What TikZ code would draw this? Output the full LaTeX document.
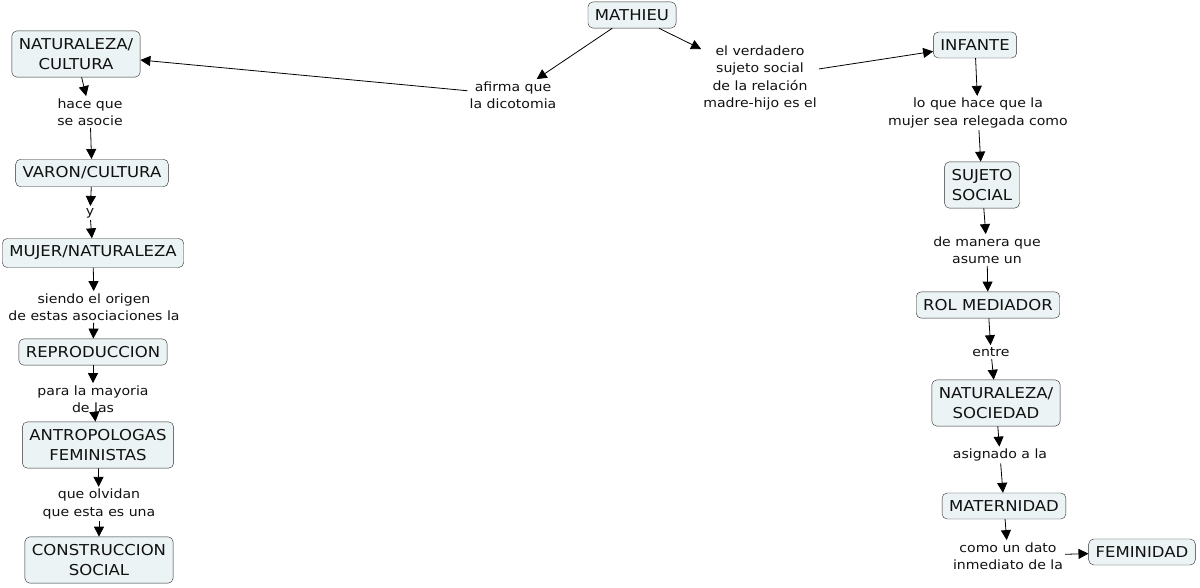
\documentclass[tikz,border=0pt]{standalone}
\usepackage{fontspec}
\setmainfont{DejaVu Sans}[FakeStretch=1.1]
\usetikzlibrary{arrows.meta,positioning}
\definecolor{MAPFill}{HTML}{EBF3F4}
\definecolor{MAPLine}{HTML}{2B2B2B}
\definecolor{MAPText}{HTML}{111111}
\tikzset{
  mapconcept/.style={
    draw=MAPLine,
    fill=MAPFill,
    rounded corners=5pt,
    align=center,
    inner xsep=7pt,
    inner ysep=7.5pt,
    text=MAPText,
    font=\fontsize{15}{20}\selectfont
  },
  maplink/.style={
    align=center,
    inner sep=2pt,
    text=MAPText,
    font=\fontsize{12.8}{17.5}\selectfont
  },
  mapflow/.style={-{Triangle[length=10pt,width=10pt]},draw=black,line width=0.8pt}
}

\begin{document}
\begin{tikzpicture}[x=1pt,y=-1pt]
  \useasboundingbox (0,0) rectangle (1200,587);
  % concepts
  \node[mapconcept] (mathieu) at (632,15) {MATHIEU};
  \node[mapconcept] (natcult) at (76,54) {NATURALEZA/\\CULTURA};
  \node[mapconcept] (varon) at (92,173) {VARON/CULTURA};
  \node[mapconcept] (mujer) at (93,253) {MUJER/NATURALEZA};
  \node[mapconcept] (reprod) at (93,352) {REPRODUCCION};
  \node[mapconcept] (antrop) at (98,445) {ANTROPOLOGAS\\FEMINISTAS};
  \node[mapconcept] (constr) at (99,560) {CONSTRUCCION\\SOCIAL};
  \node[mapconcept] (infante) at (975,45) {INFANTE};
  \node[mapconcept] (sujeto) at (982,185) {SUJETO\\SOCIAL};
  \node[mapconcept] (rol) at (988,305) {ROL MEDIADOR};
  \node[mapconcept] (natsoc) at (996,403) {NATURALEZA/\\SOCIEDAD};
  \node[mapconcept] (matern) at (1004,506) {MATERNIDAD};
  \node[mapconcept] (femin) at (1142,552) {FEMINIDAD};
  % linking phrases
  \node[maplink] (afirma) at (513,95) {afirma que\\la dicotomia};
  \node[maplink] (verdad) at (760,78) {el verdadero\\sujeto social\\de la relación\\madre-hijo es el};
  \node[maplink] (hace) at (90,112) {hace que\\se asocie};
  \node[maplink] (yy) at (90,213) {y};
  \node[maplink] (siendo) at (94,307) {siendo el origen\\de estas asociaciones la};
  \node[maplink] (para) at (93,399) {para la mayoria\\de las};
  \node[maplink] (olvidan) at (99,504) {que olvidan\\que esta es una};
  \node[maplink] (relega) at (978,113) {lo que hace que la\\mujer sea relegada como};
  \node[maplink] (manera) at (987,250) {de manera que\\asume un};
  \node[maplink] (entre) at (991,352) {entre};
  \node[maplink] (asign) at (1000,455) {asignado a la};
  \node[maplink] (dato) at (1008,556) {como un dato\\inmediato de la};
  % connections
  \draw[mapflow] (mathieu) -- (afirma);
  \draw[mapflow] (afirma) -- (natcult);
  \draw[mapflow] (mathieu) -- (verdad);
  \draw[mapflow] (verdad) -- (infante);
  \draw[mapflow] (natcult) -- (hace);
  \draw[mapflow] (hace) -- (varon);
  \draw[mapflow] (varon) -- (yy);
  \draw[mapflow] (yy) -- (mujer);
  \draw[mapflow] (mujer) -- (siendo);
  \draw[mapflow] (siendo) -- (reprod);
  \draw[mapflow] (reprod) -- (para);
  \draw[mapflow] (para) -- (antrop);
  \draw[mapflow] (antrop) -- (olvidan);
  \draw[mapflow] (olvidan) -- (constr);
  \draw[mapflow] (infante) -- (relega);
  \draw[mapflow] (relega) -- (sujeto);
  \draw[mapflow] (sujeto) -- (manera);
  \draw[mapflow] (manera) -- (rol);
  \draw[mapflow] (rol) -- (entre);
  \draw[mapflow] (entre) -- (natsoc);
  \draw[mapflow] (natsoc) -- (asign);
  \draw[mapflow] (asign) -- (matern);
  \draw[mapflow] (matern) -- (dato);
  \draw[mapflow] (dato) -- (femin);
\end{tikzpicture}
\end{document}
